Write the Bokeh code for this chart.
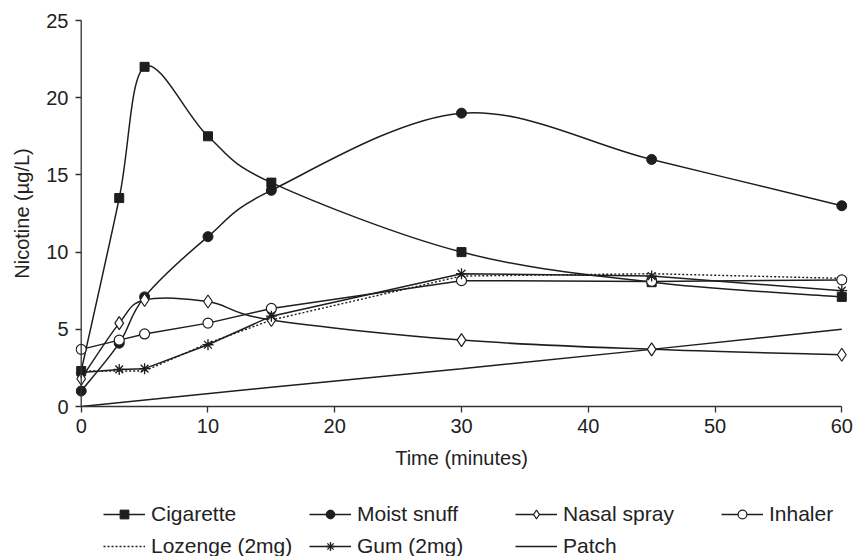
from bokeh.plotting import figure
from bokeh.layouts import column
from bokeh.models import ColumnDataSource, Range1d, Legend, LegendItem, FixedTicker, Span
from bokeh.embed import file_html
from bokeh.resources import INLINE

# ---- data ----
time_min = [0, 3, 5, 10, 15, 30, 45, 60]
cigarette = [2.3, 13.5, 22.0, 17.5, 14.5, 10.0, 8.05, 7.1]
moist_snuff = [1.0, 4.1, 7.1, 11.0, 14.0, 19.0, 16.0, 13.0]
nasal_spray = [1.8, 5.4, 6.9, 6.8, 5.6, 4.3, 3.7, 3.35]
inhaler = [3.7, 4.3, 4.7, 5.4, 6.35, 8.15, 8.1, 8.2]
lozenge = [2.3, 2.3, 2.3, 4.1, 5.6, 8.45, 8.6, 8.3]
gum = [2.2, 2.4, 2.45, 4.0, 5.85, 8.6, 8.45, 7.5]
patch_time = [0, 15, 30, 45, 60]
patch = [0.0, 1.25, 2.45, 3.7, 5.0]
x_ticks = [0, 10, 20, 30, 40, 50, 60]
y_ticks = [0, 5, 10, 15, 20, 25]

FONT = "Liberation Sans"
INK = "#1e1e1e"
AXC = "#333333"
TXT = "#222222"
LW = 1.5


def smooth_segments(xs, ys):
    """Cubic Bezier pieces through the data points (Catmull-Rom style)."""
    n = len(xs)
    d = dict(x0=[], y0=[], x1=[], y1=[], cx0=[], cy0=[], cx1=[], cy1=[])
    for i in range(n - 1):
        a, b = max(i - 1, 0), min(i + 2, n - 1)
        d["x0"].append(xs[i]); d["y0"].append(ys[i])
        d["x1"].append(xs[i + 1]); d["y1"].append(ys[i + 1])
        d["cx0"].append(xs[i] + (xs[i + 1] - xs[a]) / 6.0)
        d["cy0"].append(ys[i] + (ys[i + 1] - ys[a]) / 6.0)
        d["cx1"].append(xs[i + 1] - (xs[b] - xs[i]) / 6.0)
        d["cy1"].append(ys[i + 1] - (ys[b] - ys[i]) / 6.0)
    return ColumnDataSource(d)


def draw_series(fig):
    """Draw all series on fig; return renderers keyed by series name."""
    bz = dict(x0="x0", y0="y0", x1="x1", y1="y1", cx0="cx0", cy0="cy0", cx1="cx1", cy1="cy1")
    r = {}
    r["cig_l"] = fig.bezier(source=smooth_segments(time_min, cigarette), line_color=INK, line_width=LW, **bz)
    r["ms_l"] = fig.bezier(source=smooth_segments(time_min, moist_snuff), line_color=INK, line_width=LW, **bz)
    r["ns_l"] = fig.bezier(source=smooth_segments(time_min, nasal_spray), line_color=INK, line_width=LW, **bz)
    r["patch"] = fig.line(patch_time, patch, line_color=INK, line_width=LW)
    r["loz"] = fig.line(time_min, lozenge, line_color=INK, line_width=1.4, line_dash="2 2")
    r["gum_l"] = fig.line(time_min, gum, line_color=INK, line_width=LW)
    r["inh_l"] = fig.line(time_min, inhaler, line_color=INK, line_width=LW)
    r["cig_m"] = fig.scatter(time_min, cigarette, marker="square", size=9, fill_color=INK, line_color=INK)
    r["ms_m"] = fig.scatter(time_min, moist_snuff, marker="circle", size=10, fill_color=INK, line_color=INK)
    r["ns_m"] = fig.scatter(time_min, nasal_spray, marker="diamond", size=13, fill_color="white",
                            line_color=INK, line_width=1.2)
    r["inh_m"] = fig.scatter(time_min, inhaler, marker="circle", size=10, fill_color="white",
                             line_color=INK, line_width=1.2)
    r["gum_m"] = fig.scatter(time_min, gum, marker="asterisk", size=11, line_color=INK, line_width=1.3)
    return r


# ---------------- main chart ----------------
pad = 0.45  # small room so edge markers are not cut by the frame
p = figure(
    frame_width=772, frame_height=386,
    x_range=Range1d(-pad, 60 + pad), y_range=Range1d(0, 25),
    output_backend="svg", toolbar_location=None,
    min_border_left=75, min_border_right=6, min_border_top=20, min_border_bottom=70,
    background_fill_color="white", border_fill_color="white",
)
p.outline_line_color = None
p.grid.visible = False

for ax in (p.xaxis, p.yaxis):
    ax.axis_line_color = AXC
    ax.axis_line_width = 1.3
    ax.major_tick_line_color = AXC
    ax.major_tick_line_width = 1.3
    ax.minor_tick_line_color = None
    ax.major_label_text_font = FONT
    ax.major_label_text_font_size = "20px"
    ax.major_label_text_color = TXT
    ax.axis_label_text_font = FONT
    ax.axis_label_text_font_size = "20px"
    ax.axis_label_text_color = TXT
    ax.axis_label_text_font_style = "normal"

p.xaxis.ticker = FixedTicker(ticks=x_ticks)
p.yaxis.ticker = FixedTicker(ticks=y_ticks)
p.xaxis.bounds = (0, 60)
p.xaxis.major_tick_in = 0
p.xaxis.major_tick_out = 6
p.xaxis.major_label_standoff = 6
p.xaxis.axis_label = "Time (minutes)"
p.xaxis.axis_label_standoff = 11

# y axis sits at the frame edge; its ticks reach the x = 0 line
p.yaxis.axis_line_color = None
p.yaxis.major_tick_in = 6
p.yaxis.major_tick_out = 0
p.yaxis.major_label_standoff = 7
p.yaxis.axis_label = "Nicotine (\u00b5g/L)"
p.yaxis.axis_label_standoff = 10
p.add_layout(Span(location=0, dimension="height", line_color=AXC, line_width=1.3))

draw_series(p)

# ---------------- legend strip ----------------
LEG_H = 80
lg = figure(
    width=853, height=LEG_H,
    x_range=Range1d(1000, 1001), y_range=Range1d(1000, 1001),  # series drawn here stay out of view
    output_backend="svg", toolbar_location=None,
    x_axis_location=None, y_axis_location=None,
    min_border_left=75, min_border_top=0, min_border_right=6, min_border_bottom=0,
    background_fill_color="white", border_fill_color="white",
)
lg.outline_line_color = None
lg.grid.visible = False
rr = draw_series(lg)

items = [
    LegendItem(label="Cigarette", renderers=[rr["cig_l"], rr["cig_m"]]),
    LegendItem(label="Moist snuff", renderers=[rr["ms_l"], rr["ms_m"]]),
    LegendItem(label="Nasal spray", renderers=[rr["ns_l"], rr["ns_m"]]),
    LegendItem(label="Inhaler", renderers=[rr["inh_l"], rr["inh_m"]]),
    LegendItem(label="Lozenge (2mg)", renderers=[rr["loz"]]),
    LegendItem(label="Gum (2mg)", renderers=[rr["gum_l"], rr["gum_m"]]),
    LegendItem(label="Patch", renderers=[rr["patch"]]),
]
leg = Legend(
    items=items,
    orientation="horizontal", ncols=4,
    location=(28, -2),
    label_text_font=FONT, label_text_font_size="21px", label_text_color=TXT,
    glyph_width=42, glyph_height=22, label_height=22, label_width=150, label_standoff=6,
    spacing=8, padding=0, margin=0,
    border_line_color=None, background_fill_alpha=0,
)
lg.add_layout(leg, "center")

layout = column(p, lg, spacing=0)
open("out.html", "w").write(file_html(layout, INLINE))
